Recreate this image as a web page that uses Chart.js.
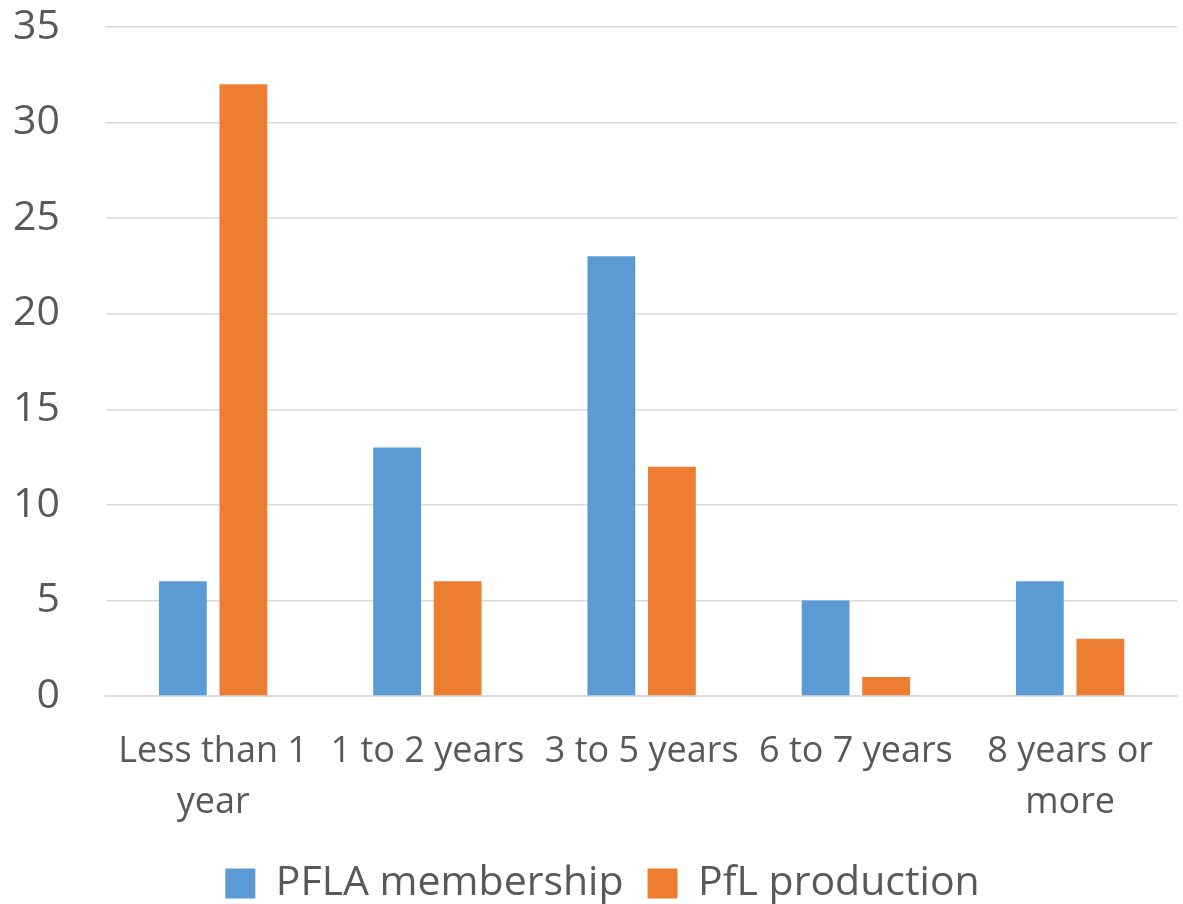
<!DOCTYPE html>
<html>
<head>
<meta charset="utf-8">
<script src="https://cdn.jsdelivr.net/npm/chart.js@4"></script>
<style>
  html, body { margin: 0; padding: 0; background: #fff; }
  #wrap { width: 1183px; height: 904px; }
</style>
</head>
<body>
<div id="wrap"><canvas id="chart"></canvas></div>
<script>
// --- data ---
const categories = [
  ["Less than 1", "year"],
  "1 to 2 years",
  "3 to 5 years",
  "6 to 7 years",
  ["8 years or", "more"],
];
const pflaMembership = [6, 13, 23, 5, 6];
const pflProduction = [32, 6, 12, 1, 3];

const ctx = document.getElementById("chart").getContext("2d");
new Chart(ctx, {
  type: "bar",
  data: {
    labels: categories,
    datasets: [
      {
        label: "PFLA membership",
        data: pflaMembership,
        backgroundColor: "#5b9bd5",
        categoryPercentage: 0.565,
        barPercentage: 0.79,
      },
      {
        label: "PfL production",
        data: pflProduction,
        backgroundColor: "#ed7d31",
        categoryPercentage: 0.565,
        barPercentage: 0.79,
      },
    ],
  },
  options: {
    responsive: true,
    maintainAspectRatio: false,
    animation: false,
    layout: { padding: { left: 14, right: -8, top: 0, bottom: -10 } },
    plugins: {
      legend: {
        position: "bottom",
        labels: {
          font: { family: "Open Sans", size: 41, lineHeight: 1.0 },
          color: "#595959",
          boxWidth: 30,
          boxHeight: 30,
          padding: 24,
        },
      },
      tooltip: { enabled: false },
    },
    scales: {
      x: {
        grid: { display: false, drawTicks: false },
        border: { color: "#d9d9d9", width: 2 },
        ticks: {
          font: { family: "Open Sans", size: 36, lineHeight: 1.42 },
          color: "#595959",
          maxRotation: 0,
          autoSkip: false,
          padding: 30,
        },
        afterFit: (scale) => {
          scale.height = 143;
        },
      },
      y: {
        min: 0,
        max: 35,
        grid: { color: "#d9d9d9", lineWidth: 1.5, drawTicks: false },
        border: { display: false },
        ticks: {
          stepSize: 5,
          font: { family: "Open Sans", size: 41 },
          color: "#595959",
          padding: 46,
        },
        afterFit: (scale) => {
          scale.width = 92;
          scale.paddingTop = 27;
          scale.paddingBottom = 0;
        },
      },
    },
  },
});
</script>
</body>
</html>
